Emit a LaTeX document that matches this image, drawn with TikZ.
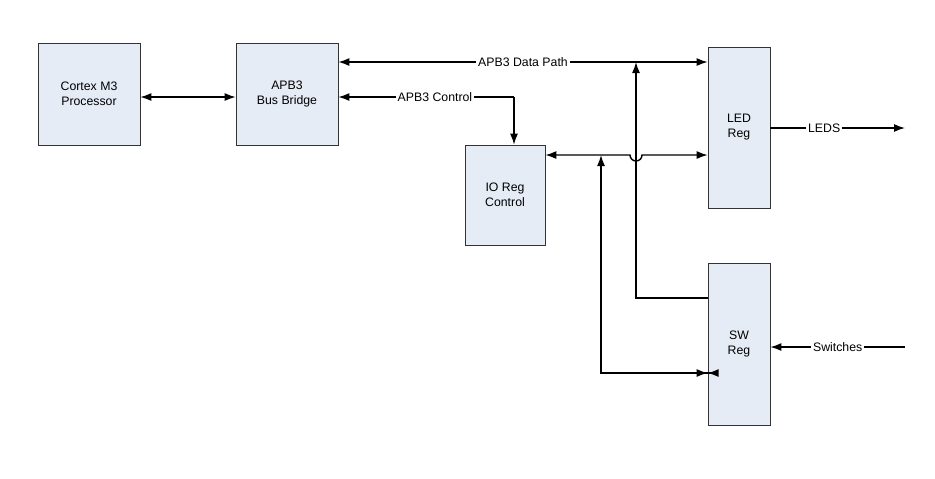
\documentclass[tikz,border=0pt]{standalone}
\usepackage{fontspec}
\setmainfont{Liberation Sans}
\usetikzlibrary{arrows.meta}
\definecolor{boxfill}{HTML}{E6ECF6}
\tikzset{
  blk/.style={draw=black!80, fill=boxfill, align=center, inner sep=0pt},
  bus/.style={thick, {Latex[length=2.2mm,width=1.6mm]}-{Latex[length=2.2mm,width=1.6mm]}},
  sig/.style={thick, -{Latex[length=2.2mm,width=1.6mm]}},
  lbl/.style={fill=white, inner sep=1pt}
}
\begin{document}
\begin{tikzpicture}[x=0.02cm, y=-0.02cm, font=\fontsize{7}{8.5}\selectfont]
        \useasboundingbox (0,0) rectangle (935,478) ;
        % blocks
        \node[blk, minimum width=2.04cm, minimum height=2.04cm] (cpu) at (89,94) {Cortex M3\\Processor} ;
        \node[blk, minimum width=2.04cm, minimum height=2.04cm] (brg) at (287,94) {APB3\\Bus Bridge} ;
        \node[blk, minimum width=1.6cm, minimum height=2cm] (ioc) at (505,195) {IO Reg\\Control} ;
        \node[blk, minimum width=1.24cm, minimum height=3.22cm] (led) at (739,127.5) {LED\\Reg} ;
        \node[blk, minimum width=1.24cm, minimum height=3.24cm] (sw) at (739,344) {SW\\Reg} ;
        
        % helper points
        \coordinate (ledout) at (905,128) ;
        \coordinate (swin) at (905,347) ;
        \coordinate (ctl) at (514,97) ;
        \coordinate (dtap) at (636,62) ;
        \coordinate (iotap) at (601,155) ;
        
        % buses
        \draw[bus] (cpu.east |- 0,97) -- (brg.east |- 0,97 -| brg.west) ;
        \draw[bus] (brg.east |- 0,62) -- node[lbl] {APB3 Data Path} (led.west |- 0,62) ;
        \draw[thick, {Latex[length=2.2mm,width=1.6mm]}-] (brg.east |- ctl) -- node[lbl, pos=0.55] {APB3 Control} (ctl) ;
        \draw[sig] (ctl) -- (ctl |- ioc.north) ;
        \draw[bus] (ioc.east |- iotap) -- (630,155) arc (180:0:6) -- (led.west |- iotap) ;
        \draw[sig] (sw.west |- 0,298) -- (dtap |- 0,298) -- (dtap) ;
        \draw[sig] (sw.west |- 0,373) -- (iotap |- 0,373) -- (iotap) ;
        \draw[sig] (sw.west |- 0,373) -- ++(-0.1,0) ;
        \draw[thick, -{Latex[length=2.2mm,width=1.6mm]}] (iotap |- 0,373) -- (sw.west |- 0,373) ;
        
        % outside signals
        \draw[sig] (led.east |- ledout) -- node[lbl, pos=0.4] {LEDS} (ledout) ;
        \draw[sig] (swin) -- node[lbl, pos=0.5] {Switches} (sw.east |- swin) ;
\end{tikzpicture}
\end{document}
